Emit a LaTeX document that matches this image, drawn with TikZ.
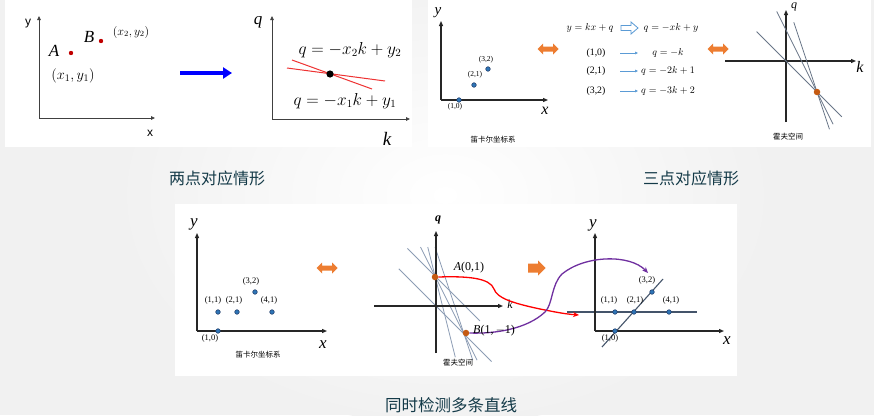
\documentclass[tikz,border=0pt]{standalone}
\usepackage{fontspec}
\setmainfont{Liberation Serif}
\setsansfont{Liberation Sans}
\newfontfamily\cjk{Noto Sans CJK SC}
\usetikzlibrary{arrows.meta}

\definecolor{houghBack}{RGB}{241,241,241}
\definecolor{houghTitle}{RGB}{20,58,72}
\definecolor{houghRed}{RGB}{192,0,0}
\definecolor{houghLine}{RGB}{238,50,50}
\definecolor{houghBlue}{RGB}{0,0,255}
\definecolor{houghOrange}{RGB}{237,125,49}
\definecolor{houghDot}{RGB}{197,90,17}
\definecolor{houghPoint}{RGB}{46,117,182}
\definecolor{houghPointDark}{RGB}{31,56,100}
\definecolor{houghGray}{RGB}{140,156,180}
\definecolor{houghPurple}{RGB}{112,48,160}
\definecolor{houghArrow}{RGB}{91,155,213}
\definecolor{houghFit}{RGB}{68,84,106}

\begin{document}
\begin{tikzpicture}[x=1pt,y=-1pt,
      title/.style={font=\cjk\fontsize{16}{18}\selectfont, text=houghTitle},
      caption/.style={font=\cjk\fontsize{7.5}{8}\selectfont, text=black},
      pair/.style={font=\fontsize{8.5}{9}\selectfont, inner sep=1pt},
      eqn/.style={font=\fontsize{9.8}{11}\selectfont, inner sep=1pt},
      axis/.style={draw=black!85, line width=1.1pt,
        -{Triangle[length=5pt,width=4pt]}},
      thinaxis/.style={draw=black!75, line width=.8pt,
        -{Triangle[length=4pt,width=3.5pt]}},
      reddot/.style={circle, fill=houghRed, inner sep=0pt, minimum size=4.4pt},
      blob/.style={circle, fill=houghPoint, draw=houghPointDark,
        line width=.5pt, inner sep=0pt, minimum size=4.6pt},
      hitdot/.style={circle, fill=houghDot, inner sep=0pt, minimum size=6.5pt},
      hline/.style={draw=houghGray, line width=.8pt},
      fitline/.style={draw=houghFit, line width=1.1pt},
      thinarrow/.style={draw=houghArrow, line width=.6pt,
        -{Triangle[length=3pt,width=2.6pt]}},
      tochain/.style={line width=1.3pt, -{Stealth[length=6pt,width=5pt]}}]
      \useasboundingbox (0,0) rectangle (874,415);
      \fill[houghBack] (0,0) rectangle (874,415);
      \shade[inner color=white, outer color=houghBack] (445,195) ellipse (330 and 230);
      \fill[white] (5,0) rectangle (412,147);
      \fill[white] (428,0) rectangle (871,147);
      \fill[white] (175,204) rectangle (737,376);

      % two points -> two lines
      \draw[thinaxis] (39,118) -- (39,16);
      \draw[thinaxis] (39,118) -- (155,118);
      \node[font=\sffamily\fontsize{12}{12}\selectfont] (ya) at (28,24) {y};
      \node[font=\sffamily\fontsize{12}{12}\selectfont] (xa) at (150,133) {x};
      \node[reddot] (ptA) at (71,53) {};
      \node[reddot] (ptB) at (101,41) {};
      \node[font=\itshape\fontsize{17}{18}\selectfont] (lblA) at (54,51) {A};
      \node[font=\itshape\fontsize{17}{18}\selectfont] (lblB) at (89,37) {B};
      \node[font=\fontsize{14}{16}\selectfont] (xyA) at (73,76) {$(x_1, y_1)$};
      \node[font=\fontsize{12}{14}\selectfont] (xyB) at (131,32) {$(x_2, y_2)$};
      \draw[houghBlue, line width=3.6pt, -{Triangle[length=9pt,width=11pt]}]
        (180,73) -- (232,73);
      \draw[thinaxis] (272,119) -- (272,16);
      \draw[thinaxis] (272,119) -- (410,119);
      \node[font=\itshape\fontsize{17}{18}\selectfont] (qa) at (258,22) {q};
      \node[font=\itshape\fontsize{19}{20}\selectfont] (ka) at (387,139) {k};
      \draw[houghLine, line width=1pt] (292,60) -- (372,89);
      \draw[houghLine, line width=1pt] (287,68) -- (385,81);
      \fill (330,74) circle (3.6);
      \node[font=\fontsize{16}{18}\selectfont] (eqB) at (350,50) {$q=-x_2k+y_2$};
      \node[font=\fontsize{16}{18}\selectfont] (eqA) at (345,101) {$q=-x_1k+y_1$};

      % three points -> three lines
      \draw[axis] (441,100) -- (441,21);
      \draw[axis] (441,100) -- (548,100);
      \node[font=\itshape\fontsize{15}{16}\selectfont] (yb) at (438,13) {y};
      \node[font=\itshape\fontsize{16}{16}\selectfont] (xb) at (545,111) {x};
      \node[blob] (b10) at (459,100) {};
      \node[blob] (b21) at (474,85) {};
      \node[blob] (b32) at (488,69) {};
      \node[pair, font=\fontsize{7.5}{8}\selectfont] (lb10) at (455,107) {(1,0)};
      \node[pair, font=\fontsize{7.5}{8}\selectfont] (lb21) at (475,75) {(2,1)};
      \node[pair, font=\fontsize{7.5}{8}\selectfont] (lb32) at (486,60) {(3,2)};
      \node[caption] (capb) at (493,140) {笛卡尔坐标系};
      \fill[houghOrange] (537.5,49) -- (543,43.5) -- (543,46.5) -- (553,46.5)
        -- (553,43.5) -- (558.5,49) -- (553,54.5) -- (553,51.5) -- (543,51.5)
        -- (543,54.5) -- cycle;
      \node[eqn] (line) at (590,28) {$y=kx+q$};
      \node[eqn] (hough) at (671,28) {$q=-xk+y$};
      \path[draw=houghArrow, fill=white, line width=.8pt]
        (621,25.5) -- (631,25.5) -- (631,22) -- (638,28) -- (631,34)
        -- (631,30.5) -- (621,30.5) -- cycle;
      \node[eqn] (r10) at (596,53) {(1,0)};
      \node[eqn] (r21) at (596,71) {(2,1)};
      \node[eqn] (r32) at (596,91) {(3,2)};
      \node[eqn] (e10) at (668,53) {$q=-k$};
      \node[eqn] (e21) at (668,71) {$q=-2k+1$};
      \node[eqn] (e32) at (668,91) {$q=-3k+2$};
      \foreach \r in {10,21,32}
        \draw[thinarrow] ([xshift=24pt]r\r.center) -- ++(18,0);
      \fill[houghOrange] (707.5,49) -- (713,43.5) -- (713,46.5) -- (723,46.5)
        -- (723,43.5) -- (728.5,49) -- (723,54.5) -- (723,51.5) -- (713,51.5)
        -- (713,54.5) -- cycle;
      \draw[axis] (786,122) -- (786,10);
      \draw[axis] (725,61) -- (856,61);
      \node[font=\itshape\fontsize{12}{13}\selectfont] (qb) at (794,7) {q};
      \node[font=\itshape\fontsize{16}{16}\selectfont] (kb) at (860,67) {k};
      \begin{scope}[shift={(786,61)}, x=31pt, y=31pt]
        \draw[hline, houghFit!80] (-0.95,0.95) -- (1.8,-1.8);
        \draw[hline, houghFit!80] (-0.3,1.6) -- (1.52,-2.04);
        \draw[hline, houghFit!80] (0.25,1.25) -- (1.4,-2.2);
        \node[hitdot] (hitb) at (1,-1) {};
      \end{scope}
      \node[caption] (capc) at (788,137) {霍夫空间};

      % several lines at once
      \draw[axis] (197,331) -- (197,233);
      \draw[axis] (197,331) -- (327,331);
      \node[font=\itshape\fontsize{17}{18}\selectfont] (yc) at (194,224) {y};
      \node[font=\itshape\fontsize{17}{18}\selectfont] (xc) at (323,345) {x};
      \node[blob] (c10) at (218,331) {};
      \node[blob] (c11) at (218,312) {};
      \node[blob] (c21) at (237,312) {};
      \node[blob] (c32) at (255,292) {};
      \node[blob] (c41) at (272,312) {};
      \node[pair] (lc11) at (213,300) {(1,1)};
      \node[pair] (lc21) at (234,300) {(2,1)};
      \node[pair] (lc32) at (251,281) {(3,2)};
      \node[pair] (lc41) at (269,300) {(4,1)};
      \node[pair] (lc10) at (210,338) {(1,0)};
      \node[caption] (capd) at (258,355) {笛卡尔坐标系};
      \fill[houghOrange] (316.5,268) -- (322,262.5) -- (322,265.5) -- (332,265.5)
        -- (332,262.5) -- (337.5,268) -- (332,273.5) -- (332,270.5) -- (322,270.5)
        -- (322,273.5) -- cycle;

      \begin{scope}[shift={(435,305)}, x=29pt, y=29pt]
        \draw[hline] (-1.25,1.25) -- (1.95,-1.95);
        \draw[hline] (-0.95,1.95) -- (1.55,-0.55);
        \draw[hline] (-0.5,2) -- (1.45,-1.9);
        \draw[hline] (0,2) -- (1.3,-1.9);
        \draw[hline] (-0.25,2) -- (0.7,-1.8);
      \end{scope}
      \draw[axis] (436,353) -- (436,231);
      \draw[axis] (374,306) -- (503,306);
      \node[font=\bfseries\itshape\fontsize{12}{12}\selectfont] (qc) at (438,220) {q};
      \node[font=\itshape\fontsize{12}{12}\selectfont] (kc) at (510,304) {k};
      \node[hitdot] (hitA) at (435,277) {};
      \node[hitdot] (hitB) at (466,333) {};
      \node[caption] (cape) at (458,363) {霍夫空间};
      \fill[houghOrange] (528,263.5) -- (538,263.5) -- (538,260.5) -- (545.5,268)
        -- (538,275.5) -- (538,272.5) -- (528,272.5) -- cycle;

      \draw[fitline] (567,312) -- (697,312);
      \draw[fitline] (602,347) -- (663,279);
      \draw[axis] (595,331) -- (595,233);
      \draw[axis] (595,331) -- (724,331);
      \node[font=\itshape\fontsize{17}{18}\selectfont] (yd) at (593,225) {y};
      \node[font=\itshape\fontsize{17}{18}\selectfont] (xd) at (727,341) {x};
      \node[blob] (d10) at (615,331) {};
      \node[blob] (d11) at (615,312) {};
      \node[blob] (d21) at (634,312) {};
      \node[blob] (d32) at (652,292) {};
      \node[blob] (d41) at (669,312) {};
      \node[pair] (ld11) at (609,300) {(1,1)};
      \node[pair] (ld21) at (635,300) {(2,1)};
      \node[pair] (ld32) at (647,280) {(3,2)};
      \node[pair] (ld41) at (671,300) {(4,1)};
      \node[pair] (ld10) at (610,338) {(1,0)};
      \coordinate (redEnd) at (579,315);
      \coordinate (purpleEnd) at (648,273);

      \draw[tochain, red] (hitA.east) .. controls (468,276) and (490,278)
        .. (494,289) .. controls (497,298) and (512,303) .. (540,309)
        .. controls (555,312) and (565,314) .. (redEnd);
      \draw[tochain, houghPurple] (hitB.east) .. controls (495,334) and (527,329)
        .. (545,312) .. controls (553,304) and (551,285) .. (562,274)
        .. controls (585,255) and (630,254) .. (purpleEnd);
      \node[font=\fontsize{12}{13}\selectfont] (lblhA) at (469,268) {\textit{A}(0,1)};
      \node[font=\fontsize{12}{13}\selectfont] (lblhB) at (494,331) {\textit{B}(1,\,$-$1)};

      \node[title] (twoPts) at (217,178) {两点对应情形};
      \node[title] (threePts) at (691,178) {三点对应情形};
      \node[title, font=\cjk\fontsize{16.5}{18}\selectfont] (manyLines) at (451,405) {同时检测多条直线};
    \end{tikzpicture}
\end{document}
